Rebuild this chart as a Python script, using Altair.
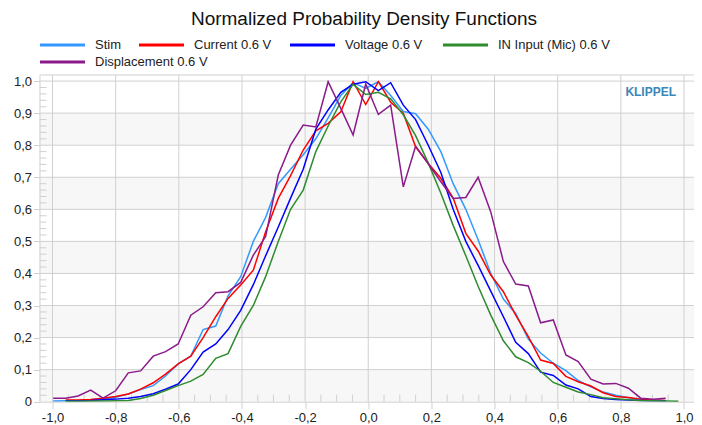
import altair as alt
import pandas as pd

# ---------------- data ----------------
X_GRID = [-0.998, -0.958, -0.919, -0.879, -0.840, -0.800, -0.760, -0.721, -0.681, -0.642,
          -0.602, -0.562, -0.523, -0.483, -0.444, -0.404, -0.364, -0.325, -0.285, -0.246,
          -0.206, -0.166, -0.127, -0.087, -0.048, -0.008, 0.032, 0.071, 0.111, 0.150,
          0.190, 0.230, 0.269, 0.309, 0.348, 0.388, 0.428, 0.467, 0.507, 0.546,
          0.586, 0.626, 0.665, 0.705, 0.744, 0.784, 0.824, 0.863, 0.903, 0.942, 0.982]

STIM = [0.002, 0.003, 0.004, 0.006, 0.009, 0.014, 0.024, 0.038, 0.050, 0.080,
        0.118, 0.142, 0.225, 0.236, 0.330, 0.390, 0.500, 0.575, 0.680, 0.725,
        0.770, 0.820, 0.885, 0.955, 0.995, 0.977, 0.998, 0.955, 0.905, 0.898,
        0.850, 0.780, 0.680, 0.600, 0.505, 0.400, 0.320, 0.275, 0.195, 0.152,
        0.120, 0.097, 0.066, 0.046, 0.030, 0.020, 0.012, 0.007, 0.005, 0.003, None]

CURRENT = [None, 0.005, 0.005, 0.007, 0.011, 0.016, 0.024, 0.039, 0.059, 0.086,
           0.118, 0.142, 0.200, 0.265, 0.322, 0.364, 0.410, 0.530, 0.634, 0.705,
           0.785, 0.845, 0.868, 0.904, 0.998, 0.927, 0.998, 0.934, 0.900, 0.795,
           0.743, 0.697, 0.635, 0.525, 0.470, 0.395, 0.343, 0.270, 0.203, 0.130,
           0.119, 0.079, 0.062, 0.049, 0.028, 0.016, 0.013, 0.008, 0.005, 0.004, None]

VOLTAGE = [None, 0.003, 0.003, 0.004, 0.006, 0.008, 0.011, 0.016, 0.025, 0.039,
           0.055, 0.100, 0.155, 0.180, 0.225, 0.285, 0.365, 0.455, 0.545, 0.635,
           0.725, 0.850, 0.910, 0.965, 0.990, 0.998, 0.970, 0.995, 0.925, 0.880,
           0.800, 0.715, 0.600, 0.500, 0.425, 0.345, 0.265, 0.185, 0.150, 0.092,
           0.082, 0.052, 0.040, 0.016, 0.010, 0.007, 0.005, 0.004, 0.003, 0.003, None]

MIC = [None, 0.001, 0.001, 0.002, 0.002, 0.003, 0.004, 0.010, 0.020, 0.035,
       0.050, 0.064, 0.085, 0.135, 0.150, 0.235, 0.300, 0.390, 0.500, 0.600,
       0.660, 0.780, 0.860, 0.935, 0.990, 0.958, 0.965, 0.945, 0.895, 0.830,
       0.745, 0.650, 0.550, 0.455, 0.360, 0.270, 0.190, 0.140, 0.122, 0.095,
       0.060, 0.045, 0.030, 0.022, 0.012, 0.009, 0.006, 0.004, 0.003, 0.002, 0.001]

DISP = [0.011, 0.011, 0.018, 0.036, 0.011, 0.034, 0.090, 0.096, 0.142, 0.156,
        0.180, 0.270, 0.296, 0.340, 0.343, 0.372, 0.457, 0.515, 0.707, 0.800,
        0.863, 0.857, 0.998, 0.915, 0.832, 0.991, 0.896, 0.925, 0.670, 0.797,
        0.742, 0.686, 0.634, 0.637, 0.700, 0.592, 0.437, 0.367, 0.361, 0.246,
        0.255, 0.146, 0.125, 0.070, 0.055, 0.057, 0.042, 0.011, 0.008, 0.011, None]

SERIES = ["Stim", "Current 0.6 V", "Voltage 0.6 V", "IN Input (Mic) 0.6 V", "Displacement 0.6 V"]
COLORS = ["#3399ff", "#ff0000", "#0000ff", "#2e8b2e", "#8b1a8b"]

X_MAJOR = [-1.0, -0.8, -0.6, -0.4, -0.2, 0.0, 0.2, 0.4, 0.6, 0.8, 1.0]
Y_MAJOR = [0.0, 0.1, 0.2, 0.3, 0.4, 0.5, 0.6, 0.7, 0.8, 0.9, 1.0]
BAND_LO = [0.0, 0.2, 0.4, 0.6, 0.8]
BAND_HI = [0.1, 0.3, 0.5, 0.7, 0.9]
X_MINOR = [round(-1 + 0.05 * i, 2) for i in range(41) if i % 4 != 0]
Y_MINOR = [round(0.02 * i, 2) for i in range(1, 50) if i % 5 != 0]

TITLE = "Normalized Probability Density Functions"
BRAND = "KLIPPEL"

# ---------------- layout (pixels, relative to the plot area) ----------------
W = 654.5
H = 326.7
FONT = "Liberation Sans"
GRID = "#d0d0d0"

# manual legend layout: symbol start / row
LEG_X = [0.5, 99.5, 250.5, 403.5, 0.5]
LEG_Y = [-30, -30, -30, -30, -13]
SYM_LEN = 45
LABEL_GAP = 10

rows = []
for name, vals in zip(SERIES, [STIM, CURRENT, VOLTAGE, MIC, DISP]):
    for i, (x, v) in enumerate(zip(X_GRID, vals)):
        if v is not None:
            rows.append({"series": name, "x": x, "y": v, "i": i})
df = pd.DataFrame(rows)

leg = pd.DataFrame({"series": SERIES, "x0": LEG_X,
                    "x1": [v + SYM_LEN for v in LEG_X],
                    "xt": [v + SYM_LEN + LABEL_GAP for v in LEG_X],
                    "y": LEG_Y})

xs = alt.Scale(domain=[-1.0412, 1.0317], nice=False, zero=False)
ys = alt.Scale(domain=[0, 1.019], nice=False, zero=False)
cs = alt.Scale(domain=SERIES, range=COLORS)

x_axis = alt.Axis(values=X_MAJOR, grid=False, title=None, domainColor=GRID, tickColor=GRID,
                  tickSize=7, labelFontSize=13, labelFont=FONT, labelColor="#222222",
                  labelPadding=3, labelFlush=False, labelOverlap=False, zindex=1,
                  labelExpr="replace(replace(format(datum.value, '.1f'), '.', ','), '\u2212', '-')")
y_axis = alt.Axis(values=Y_MAJOR, grid=False, title=None, domainColor=GRID, tickColor=GRID,
                  tickSize=6, labelFontSize=13, labelFont=FONT, labelColor="#222222",
                  labelPadding=2, labelOverlap=False, zindex=1,
                  labelExpr="datum.value == 0 ? '0' : replace(format(datum.value, '.1f'), '.', ',')")

bands = alt.Chart(pd.DataFrame({"lo": BAND_LO, "hi": BAND_HI})).mark_rect(color="#f7f7f7").encode(
    y=alt.Y("lo:Q", scale=ys, axis=y_axis), y2="hi:Q",
    x=alt.value(0), x2=alt.value(W))

vgrid = alt.Chart(pd.DataFrame({"v": X_MAJOR})).mark_rule(color=GRID, strokeWidth=1).encode(
    x=alt.X("v:Q", scale=xs, axis=x_axis))
hgrid = alt.Chart(pd.DataFrame({"v": Y_MAJOR[1:]})).mark_rule(color=GRID, strokeWidth=1).encode(
    y=alt.Y("v:Q", scale=ys, axis=y_axis))

yminor = alt.Chart(pd.DataFrame({"v": Y_MINOR})).mark_rule(color=GRID, strokeWidth=1).encode(
    y=alt.Y("v:Q", scale=ys, axis=y_axis), x=alt.value(0), x2=alt.value(7))
xminor = alt.Chart(pd.DataFrame({"v": X_MINOR})).mark_rule(color=GRID, strokeWidth=1).encode(
    x=alt.X("v:Q", scale=xs, axis=x_axis), y=alt.value(H - 7), y2=alt.value(H))

topline = alt.Chart(pd.DataFrame({"a": [0]})).mark_rule(color=GRID, strokeWidth=1).encode(
    y=alt.value(0), x=alt.value(0), x2=alt.value(W))

lines = alt.Chart(df).mark_line(strokeWidth=1.5).encode(
    x=alt.X("x:Q", scale=xs, axis=x_axis),
    y=alt.Y("y:Q", scale=ys, axis=y_axis),
    order="i:Q",
    color=alt.Color("series:N", scale=cs, legend=None))

leg_sym = alt.Chart(leg).mark_rule(strokeWidth=3).encode(
    x=alt.X("x0:Q", scale=None, axis=None), x2="x1:Q",
    y=alt.Y("y:Q", scale=None, axis=None),
    color=alt.Color("series:N", scale=cs, legend=None))
leg_txt = alt.Chart(leg).mark_text(align="left", baseline="middle", fontSize=13, font=FONT,
                                   color="#222222").encode(
    x=alt.X("xt:Q", scale=None, axis=None),
    y=alt.Y("y:Q", scale=None, axis=None),
    text="series:N")

brand = alt.Chart(pd.DataFrame({"t": [BRAND]})).mark_text(
    align="right", baseline="middle", fontSize=12, fontWeight="bold", font=FONT,
    color="#3d86b8").encode(text="t:N", x=alt.value(636.5), y=alt.value(17.5))

title = alt.Chart(pd.DataFrame({"t": [TITLE]})).mark_text(
    align="center", baseline="middle", fontSize=19, font=FONT, color="#111111").encode(
    text="t:N", x=alt.value(324.5), y=alt.value(-56))

chart = alt.layer(bands, vgrid, hgrid, yminor, xminor, topline, lines,
                  leg_sym, leg_txt, brand, title).properties(
    width=W, height=H,
    autosize=alt.AutoSizeParams(type="none"),
    padding={"left": 31.5, "top": 67, "right": 0, "bottom": 24},
).configure_view(stroke=None)

chart.save("out.html", embed_options={"renderer": "svg", "actions": False})
